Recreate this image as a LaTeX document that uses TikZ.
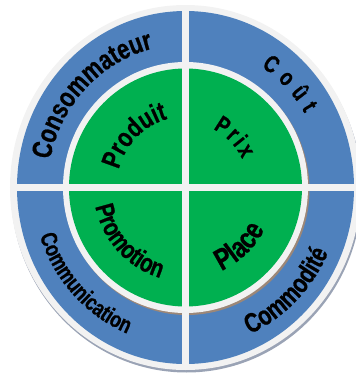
\documentclass[tikz,border=0pt]{standalone}
\usepackage{fontspec}
\setmainfont{Liberation Sans}
\newfontfamily\narrowsans{Liberation Sans}[FakeStretch=0.78, BoldFeatures={FakeBold=0.8}]
\usepackage{tikz}
\usetikzlibrary{decorations.text}
\definecolor{ringblue}{HTML}{4F81BD}
\definecolor{coregreen}{HTML}{00B050}
\definecolor{gapgray}{HTML}{F2F2F2}
\definecolor{ringshadow}{HTML}{9AA3B5}
\definecolor{coreshadow}{HTML}{9C8778}
\newcommand{\ringfont}[1]{\narrowsans\fontsize{#1}{#1}\selectfont\bfseries}

\begin{document}
\begin{tikzpicture}[x=1pt, y=1pt,
  ringtext/.style={decorate, decoration={text along path, text align=center}},
  spacedtext/.style={decorate, decoration={text along path, text align={fit to path}}}]
\useasboundingbox (-185.5,-188.5) rectangle (170.5,187.5);

% outer ring
\fill[ringshadow] (1,-3) ellipse [x radius=175.5, y radius=182];
\fill[gapgray] (0,0) ellipse [x radius=175.5, y radius=182.5];
\fill[ringblue] (0,0) ellipse [x radius=168.5, y radius=176.5];

% inner disc
\fill[coreshadow] (1.5,-2) ellipse [x radius=122.5, y radius=125.5];
\fill[gapgray] (0,0) ellipse [x radius=122.5, y radius=125.5];
\fill[coregreen] (0,0) ellipse [x radius=116.5, y radius=119];

% cross
\begin{scope}
\clip (0,0) ellipse [x radius=175.5, y radius=182.5];
\draw[gapgray, line width=7.5] (-180,0) -- (180,0);
\draw[gapgray, line width=7.5] (0,-185) -- (0,185);
\end{scope}

% top half, read clockwise
\path[ringtext, decoration={text={|\ringfont{28}|Consommateur}}]
  (181:138 and 143) arc [start angle=181, end angle=91, x radius=138, y radius=143];
\path[ringtext, decoration={text={|\ringfont{27}|Produit}}]
  (180:69 and 71) arc [start angle=180, end angle=90, x radius=69, y radius=71];
\path[spacedtext, decoration={text={|\ringfont{24}|Coût}}]
  (57:139 and 144) arc [start angle=57, end angle=31, x radius=139, y radius=144];
\path[spacedtext, decoration={text={|\ringfont{24}|Prix}}]
  (64:63 and 65) arc [start angle=64, end angle=26, x radius=63, y radius=65];

% bottom half, read counterclockwise
\path[ringtext, decoration={text={|\ringfont{23}|Communication}}]
  (178:153 and 158) arc [start angle=178, end angle=268, x radius=153, y radius=158];
\path[ringtext, decoration={text={|\ringfont{26}|Promotion}}]
  (178:92 and 94) arc [start angle=178, end angle=268, x radius=92, y radius=94];
\path[ringtext, decoration={text={|\ringfont{30}|Place}}]
  (268:89 and 91) arc [start angle=268, end angle=358, x radius=89, y radius=91];
\path[ringtext, decoration={text={|\ringfont{27}|Commodité}}]
  (270:156 and 161) arc [start angle=270, end angle=360, x radius=156, y radius=161];

\end{tikzpicture}
\end{document}
